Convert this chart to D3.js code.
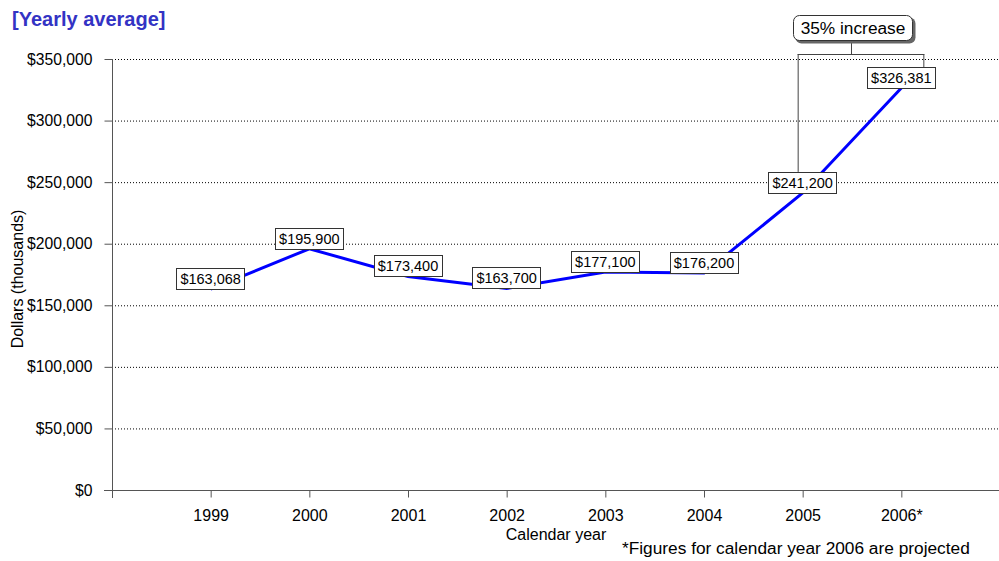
<!DOCTYPE html>
<html><head><meta charset="utf-8">
<script src="https://cdn.jsdelivr.net/npm/d3@7"></script>
<style>
body{margin:0;background:#fff;}
text{font-family:"Liberation Sans",Arial,sans-serif;}
</style></head>
<body><svg id="c" width="999" height="561"></svg>
<script>
const categories = ["1999","2000","2001","2002","2003","2004","2005","2006*"];
const values = [163068,195900,173400,163700,177100,176200,241200,326381];
const labels = ["$163,068","$195,900","$173,400","$163,700","$177,100","$176,200","$241,200","$326,381"];
const yTicks = [0,50000,100000,150000,200000,250000,300000,350000];
const annotation = "35% increase";

const svg = d3.select("#c");
const FS = 15.7, LFS = 14.5, NFS = 17.3;
const x = d3.scaleLinear().domain([-1, 8]).range([112, 1000]);
const y = d3.scaleLinear().domain([0, 350000]).range([490, 59]);
const axisColor = "#555";
const FF = "Liberation Sans, Arial, sans-serif";

// title
svg.append("text").attr("x",12).attr("y",26).attr("font-size",20).attr("font-weight","bold")
  .attr("fill","#3333c4").text("[Yearly average]");

// grid
svg.append("g").selectAll("line").data(yTicks.filter(d=>d>0)).join("line")
  .attr("x1",112).attr("x2",998).attr("y1",d=>y(d)+0.5).attr("y2",d=>y(d)+0.5)
  .attr("stroke","#000").attr("stroke-width",1).attr("stroke-dasharray","1,2");

// y axis
const ya = svg.append("g").attr("transform","translate(112.5,0)")
  .call(d3.axisLeft(y).tickValues(yTicks).tickSize(8).tickSizeOuter(0).tickPadding(12)
    .tickFormat(d=>"$"+d3.format(",")(d)));
ya.select(".domain").remove();
ya.selectAll(".tick line").attr("stroke",axisColor);
ya.selectAll(".tick text").attr("font-size",FS).attr("fill","#000").attr("font-family",FF);
svg.append("line").attr("x1",112.5).attr("x2",112.5).attr("y1",y(350000)).attr("y2",498).attr("stroke",axisColor);

// x axis
const xa = svg.append("g").attr("transform","translate(0,"+(y(0)+0.5)+")")
  .call(d3.axisBottom(x).tickValues(d3.range(categories.length)).tickSize(7).tickSizeOuter(0).tickPadding(12)
    .tickFormat(i=>categories[i]));
xa.select(".domain").remove();
xa.selectAll(".tick line").attr("stroke",axisColor);
xa.selectAll(".tick text").attr("font-size",16).attr("fill","#000").attr("font-family",FF);
svg.append("line").attr("x1",104).attr("x2",999).attr("y1",y(0)+0.5).attr("y2",y(0)+0.5).attr("stroke",axisColor);

// axis titles
svg.append("text").attr("transform","translate(23,279) rotate(-90)").attr("text-anchor","middle")
  .attr("font-size",16).text("Dollars (thousands)");
svg.append("text").attr("x",556).attr("y",540).attr("text-anchor","middle").attr("font-size",16).text("Calendar year");
svg.append("text").attr("x",622).attr("y",554).attr("font-size",NFS).text("*Figures for calendar year 2006 are projected");

// line
svg.append("path").datum(values)
  .attr("d",d3.line().x((d,i)=>x(i)).y(d=>y(d)))
  .attr("fill","none").attr("stroke","#0000ff").attr("stroke-width",3);

// bracket annotation
const bTop = y(350000) - 5;
const bL = x(6) - 5, bR = x(7) + 22;
const lblOff = -10.6, boxH = 21;
const g = svg.append("g").attr("stroke","#444").attr("fill","none");
g.append("line").attr("x1",bL+0.5).attr("x2",bL+0.5).attr("y1",bTop).attr("y2",y(values[6])+lblOff-boxH/2);
g.append("line").attr("x1",bR+0.5).attr("x2",bR+0.5).attr("y1",bTop).attr("y2",y(values[7])+lblOff-boxH/2);
g.append("line").attr("x1",bL).attr("x2",bR+1).attr("y1",bTop+0.5).attr("y2",bTop+0.5);
const cx = 853;
g.append("line").attr("x1",cx-1.5).attr("x2",cx-1.5).attr("y1",bTop).attr("y2",42);
svg.append("rect").attr("x",795.5).attr("y",17.5).attr("width",120).attr("height",26).attr("rx",6)
  .attr("fill","#666");
svg.append("rect").attr("x",793.5).attr("y",15.5).attr("width",119).attr("height",25).attr("rx",6)
  .attr("fill","#fff").attr("stroke","#333");
svg.append("text").attr("x",cx).attr("y",34).attr("text-anchor","middle").attr("font-size",NFS).text(annotation);

// data labels
const lg = svg.append("g");
labels.forEach((t,i)=>{
  const cxp = x(i), cyp = y(values[i]) + lblOff;
  const txt = lg.append("text").attr("x",cxp).attr("y",cyp+5.4).attr("text-anchor","middle").attr("font-size",LFS).text(t);
  const w = txt.node().getComputedTextLength() + 8;
  lg.insert("rect","text:last-child").attr("x",Math.round(cxp-w/2)+0.5).attr("y",Math.round(cyp-boxH/2)+0.5)
    .attr("width",Math.round(w)).attr("height",boxH).attr("fill","#fff").attr("stroke","#333");
});
</script></body></html>
